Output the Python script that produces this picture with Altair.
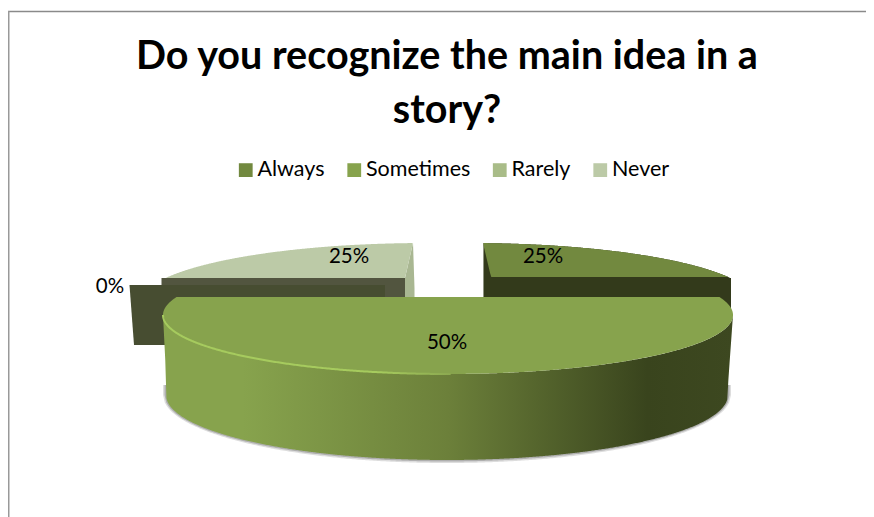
import numpy as np
import pandas as pd
import altair as alt

categories = ["Always", "Sometimes", "Rarely", "Never"]
shares = [25, 50, 0, 25]
legend_colors = ["#72893F", "#87A34D", "#A9BC88", "#BCCAA7"]
title_lines = ["Do you recognize  the main idea in a", "story?"]

# projected pie geometry, in picture pixels
A, B = 285, 59
CX_BIG, CY_BIG = 448, 315
CX_ALWAYS, CX_NEVER, CY_BACK = 470, 426, 302
CHORD_BIG, CHORD_BACK = 297, 278
BOT_A, BOT_B, BOT_CX, BOT_CY = 281, 65, 447, 395

cum = np.cumsum([0] + shares) / sum(shares) * 2 * np.pi
ranges = {c: (cum[i], cum[i + 1]) for i, c in enumerate(categories)}
label_pos = {"Always": (543, 257), "Sometimes": (447, 343), "Rarely": (110, 287), "Never": (349, 257)}


def back_arc(cat, cx, xmin, xmax):
    t0, t1 = ranges[cat]
    u = np.sin(np.linspace(t0, t1, 400))
    x = cx + A * u
    y = CY_BACK - B * np.sqrt(np.clip(1 - u ** 2, 0, 1))
    keep = (x >= xmin) & (x <= xmax) & (y <= CHORD_BACK + 0.5)
    d = pd.DataFrame({"x": x[keep], "y": np.minimum(y[keep], CHORD_BACK)}).sort_values("x")
    return d


# Always
always = back_arc("Always", CX_ALWAYS, 483, 736)
always["y2"] = np.minimum(243 + (always.x - 483) * 34 / 8, 277)
always["y2"] = np.maximum(always.y2, always.y)
always["category"] = "Always"
always_wall = always[["x", "y"]].copy()
always_wall["y2"] = np.where(always_wall.x <= 733, 317, 300)

# Never
never = back_arc("Never", CX_NEVER, 161, 413)
never["y2"] = np.minimum(243 + (413 - never.x) * 35 / 8, 278)
never["y2"] = np.maximum(never.y2, never.y)
never["category"] = "Never"
never_wall = pd.DataFrame({"x": [161.5, 405], "y": [278, 278], "y2": [300, 300]})
wx = np.array([405, 413, 414.5])
never_wedge = pd.DataFrame({"x": wx, "y": [278, 243, 288], "y2": [300, 300, 297]})

# Rarely: the zero slice only shows its cut wall
zx = np.array([129.5, 134, 385])
rarely_wall = pd.DataFrame({"x": zx, "y": [285, 285, 285], "y2": [285, 345, 345]})

# Sometimes
t0, t1 = ranges["Sometimes"]
u = np.sin(np.linspace(t0, t1, 500))
bx = CX_BIG + A * u
root = np.sqrt(np.clip(1 - u ** 2, 0, 1))
big = pd.DataFrame({"x": bx, "y": np.maximum(CY_BIG - B * root, CHORD_BIG), "y2": CY_BIG + B * root})
big["category"] = "Sometimes"
big = big.sort_values("x")


def wall_lower(x, grow=0.0):
    r = np.clip(1 - ((x - BOT_CX) / (BOT_A + grow)) ** 2, 0, 1)
    ell = BOT_CY + (BOT_B + grow) * np.sqrt(r)
    return ell


wall_x = np.linspace(CX_BIG - A, CX_BIG + A, 500)
r = np.sqrt(np.clip(1 - ((wall_x - CX_BIG) / A) ** 2, 0, 1))
lo = wall_lower(wall_x)
lo = np.where(wall_x < BOT_CX - BOT_A, CY_BIG + (wall_x - (CX_BIG - A)) * 20, lo)
lo = np.where(wall_x > BOT_CX + BOT_A, CY_BIG + ((CX_BIG + A) - wall_x) * 14, lo)
big_wall = pd.DataFrame({"x": wall_x, "y": CY_BIG + B * r, "y2": np.maximum(lo, CY_BIG + B * r)})


def shadow(grow):
    x = np.linspace(BOT_CX - BOT_A - grow, BOT_CX + BOT_A + grow, 300)
    return pd.DataFrame({"x": x, "y": np.full_like(x, 385.0), "y2": wall_lower(x, grow)})


rim = big[big.x <= 452][["x", "y2"]].rename(columns={"y2": "y"})
faces = pd.concat([always, big, never], ignore_index=True)

labels = pd.DataFrame({
    "text": [f"{s}%" for s in shares],
    "x": [label_pos[c][0] for c in categories],
    "y": [label_pos[c][1] for c in categories],
})

X = alt.X("x:Q", axis=None, scale=alt.Scale(domain=[8, 866], nice=False, zero=False))
Y = alt.Y("y:Q", axis=None, stack=None, scale=alt.Scale(domain=[517, 8], nice=False, zero=False))
Y2 = alt.Y2("y2:Q")


def grad(stops):
    return alt.Gradient(
        gradient="linear", x1=0, x2=1, y1=0, y2=0,
        stops=[alt.GradientStop(offset=o, color=c) for o, c in stops],
    )


def area(df, **mk):
    return alt.Chart(df).mark_area(interpolate="linear", **mk).encode(x=X, y=Y, y2=Y2)


wall_grad = grad([(0, "#87A34D"), (0.14, "#87A34D"), (0.5, "#6C803A"), (0.85, "#39441D"), (1, "#3D4820")])
rim_grad = grad([(0, "#A6CB5E"), (0.75, "#A6CB5E"), (1, "#8CA950")])

layers = [
    area(always_wall, color="#333A1B"),
    area(never_wall, color="#52553F"),
    area(never_wedge, color="#A9B792"),
    area(rarely_wall, color="#474D31"),
    area(shadow(3.0), color="#777777", opacity=0.25),
    area(shadow(1.5), color="#777777", opacity=0.45),
    area(big_wall, color=wall_grad),
    alt.Chart(faces).mark_area(interpolate="linear").encode(
        x=X, y=Y, y2=Y2,
        color=alt.Color(
            "category:N",
            scale=alt.Scale(domain=categories, range=legend_colors),
            legend=alt.Legend(
                orient="none", legendX=227, legendY=151, direction="horizontal", columns=4,
                title=None, symbolType="square", symbolSize=190, labelFont="Lato",
                labelFontSize=21.5, labelColor="#000000", labelOffset=1, columnPadding=18.5,
                padding=0, symbolStrokeWidth=0, labelLimit=200,
            ),
        ),
    ),
    alt.Chart(rim).mark_line(stroke=rim_grad, strokeWidth=2).encode(x=X, y=Y),
    alt.Chart(labels).mark_text(font="Lato", fontSize=20.5, color="#000000").encode(x=X, y=Y, text="text:N"),
]

frame = [
    alt.Chart(pd.DataFrame({"a": [0]})).mark_rule(color="#8A8A8A", strokeWidth=1.5).encode(
        x=alt.value(0), x2=alt.value(858), y=alt.value(3.5)),
    alt.Chart(pd.DataFrame({"a": [0]})).mark_rule(color="#999999", strokeWidth=2).encode(
        x=alt.value(0.5), y=alt.value(3), y2=alt.value(509)),
]

chart = alt.layer(*layers, *frame).properties(
    width=858, height=509,
    padding=0,
    autosize=alt.AutoSizeParams(type="none"),
    title=alt.TitleParams(
        text=title_lines, font="Lato", fontSize=39.5, fontWeight="bold", color="#000000",
        anchor="middle", orient="top", dx=10, dy=127, lineHeight=54,
    ),
).configure_view(stroke=None)

chart.save("out.html", embed_options={"renderer": "svg", "actions": False})
